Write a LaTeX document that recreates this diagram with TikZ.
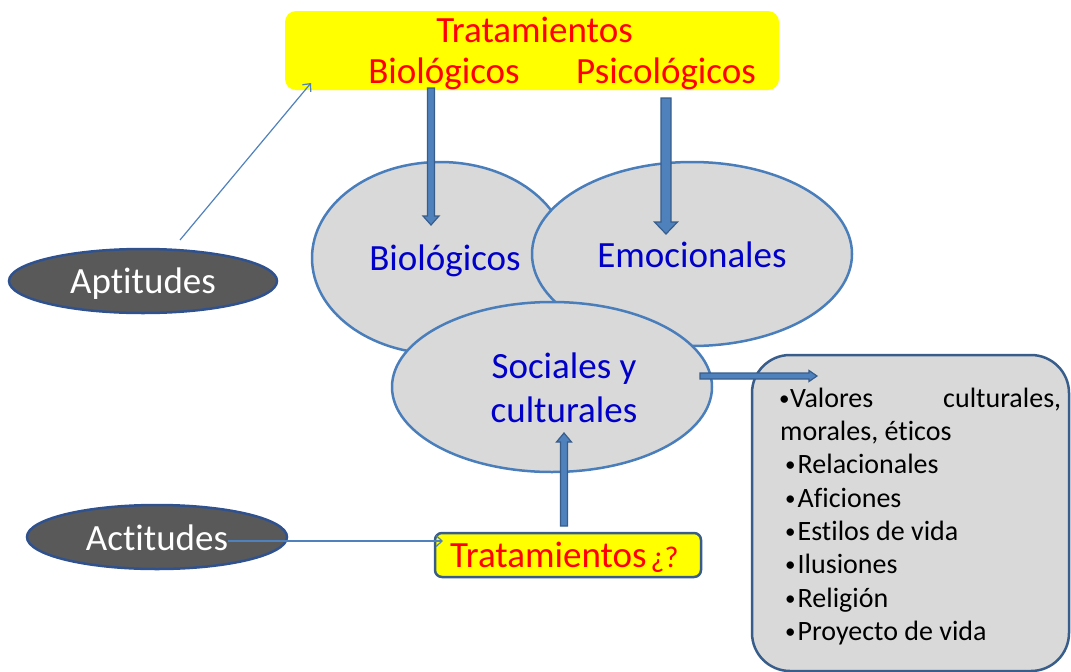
\documentclass[tikz,border=0pt]{standalone}
\usepackage{fontspec}
\setmainfont{Carlito}[Ligatures={CommonOff,ContextualOff}]
\usetikzlibrary{shapes.geometric,arrows.meta,calc}
\definecolor{ellfill}{HTML}{D9D9D9}
\definecolor{ellline}{RGB}{74,126,187}
\definecolor{darkfill}{HTML}{595959}
\definecolor{darkline}{RGB}{47,82,143}
\definecolor{boxline}{RGB}{56,93,138}
\definecolor{arrfill}{RGB}{79,129,189}
\definecolor{arrline}{RGB}{56,93,138}
\definecolor{txtblue}{RGB}{0,0,200}
\definecolor{txtred}{RGB}{255,0,0}
\definecolor{yel}{RGB}{255,255,0}
\newcommand\blkarr[5]{%
  \coordinate (h-#1) at ($(#2)!#5!(#1)$);
  \filldraw[blk] ($(#1)!#3!90:(#2)$) -- ($(h-#1)!#3!90:(#2)$) -- ($(h-#1)!#4!90:(#2)$) -- (#2)
    -- ($(h-#1)!#4!-90:(#2)$) -- ($(h-#1)!#3!-90:(#2)$) -- ($(#1)!#3!-90:(#2)$) -- cycle;}
\newcommand\mybul{\raisebox{1.5pt}{\fontsize{21}{24}\selectfont •}}
\tikzset{
  ell/.style={ellipse, draw=ellline, fill=ellfill, line width=2.5pt, inner sep=0pt},
  darkell/.style={ellipse, draw=darkline, fill=darkfill, line width=2.5pt, inner sep=0pt},
  bigtxt/.style={font=\fontsize{37}{44}\selectfont, inner sep=0pt, anchor=base},
  listtxt/.style={font=\fontsize{28}{33}\selectfont, inner sep=0pt, anchor=base west, text=black},
  blk/.style={fill=arrfill, draw=arrline, line width=1.2pt, line join=miter},
  thinarr/.style={draw=arrfill, line width=1.2pt, -{Straight Barb[length=6pt,width=11pt,line width=1.2pt]}},
}
\begin{document}
\begin{tikzpicture}[x=1pt,y=-1pt]
\useasboundingbox (0,0) rectangle (1071,672);
% top box
\node[fill=yel, rounded corners=11pt, minimum width=494pt, minimum height=79pt, inner sep=0pt] (top) at (532,50.5) {};
\node[bigtxt, text=txtred] (topt) at (534.5,42) {Tratamientos};
\node[bigtxt, text=txtred] (topb) at (444,83) {Biológicos};
\node[bigtxt, text=txtred] (topp) at (666,83) {Psicológicos};
% central ellipses
\node[ell, minimum width=256pt, minimum height=192pt] (bio) at (440,258) {};
\node[ell, minimum width=320pt, minimum height=184pt] (emo) at (692,254) {};
\node[ell, minimum width=320pt, minimum height=170pt] (soc) at (552,387) {};
\node[bigtxt, text=txtblue] (biot) at (445,270) {Biológicos};
\node[bigtxt, text=txtblue] (emot) at (692,267) {Emocionales};
\node[bigtxt, text=txtblue] (soct1) at (564,378) {Sociales y};
\node[bigtxt, text=txtblue] (soct2) at (564,422) {culturales};
% dark ellipses
\node[darkell, minimum width=268pt, minimum height=64pt] (apt) at (143,281) {};
\node[bigtxt, text=white] (aptt) at (143,293) {Aptitudes};
\node[darkell, minimum width=260pt, minimum height=64pt] (act) at (157,537) {};
\node[bigtxt, text=white] (actt) at (157,550) {Actitudes};
% treatment box
\node[fill=yel, draw=boxline, line width=2.5pt, rounded corners=7pt, minimum width=266pt, minimum height=44pt, inner sep=0pt] (trat) at (568,555) {};
\node[inner sep=0pt, anchor=base west, text=txtred] (tratt) at (450,567) {\fontsize{37}{44}\selectfont Tratamientos\fontsize{30}{34}\selectfont\kern4pt ¿?};
% right list box
\node[fill=ellfill, draw=boxline, line width=2.5pt, rounded corners=38pt, minimum width=317pt, minimum height=316pt, inner sep=0pt] (list) at (910.5,513) {};
\node[listtxt] (l1) at (779,407) {\hbox to 282pt{\mybul\kern0.5pt Valores\hfill culturales,}};
\node[listtxt] (l2) at (780,440) {morales, éticos};
\node[listtxt] (l3) at (785,473) {\mybul\kern2pt Relacionales};
\node[listtxt] (l4) at (785,507) {\mybul\kern2pt Aficiones};
\node[listtxt] (l5) at (785,540) {\mybul\kern2pt Estilos de vida};
\node[listtxt] (l6) at (785,573) {\mybul\kern2pt Ilusiones};
\node[listtxt] (l7) at (785,607) {\mybul\kern2pt Religión};
\node[listtxt] (l8) at (785,640) {\mybul\kern2pt Proyecto de vida};
% connector end points
\coordinate (a1s) at (431,88);
\coordinate (a1e) at (431,225);
\coordinate (a2s) at (666,98);
\coordinate (a2e) at (666,234);
\coordinate (a3s) at (564,526);
\coordinate (a3e) at (564,433);
\coordinate (a4s) at (700,376);
\coordinate (a4e) at (817,376);
\coordinate (aptS) at (180,240);
\coordinate (aptE) at (311,83);
\coordinate (actS) at (228,541);
\coordinate (actE) at (443,541);
% block arrows
\blkarr{a1s}{a1e}{3.5pt}{8pt}{9pt}
\blkarr{a2s}{a2e}{5pt}{11.5pt}{12pt}
\blkarr{a3s}{a3e}{3.5pt}{7.5pt}{9pt}
\blkarr{a4s}{a4e}{3pt}{5.5pt}{8pt}
% thin arrows
\draw[thinarr] (aptS) -- (aptE);
\draw[thinarr] (actS) -- (actE);
\end{tikzpicture}
\end{document}
